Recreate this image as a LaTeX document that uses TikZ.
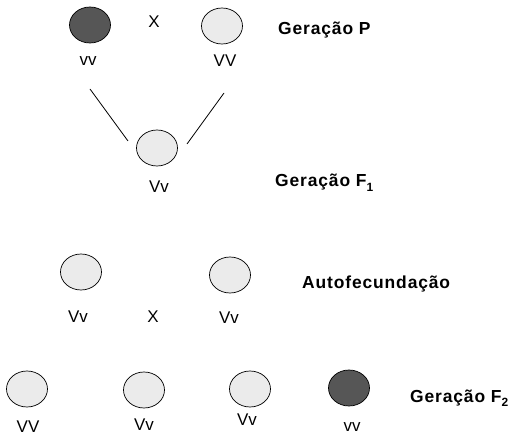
\documentclass[tikz,border=0pt]{standalone}
\usepackage{fontspec}
\setmainfont{Liberation Sans}
\newfontfamily\headfont[LetterSpace=5]{Liberation Sans}
\usetikzlibrary{shapes.geometric}
\definecolor{lightcell}{HTML}{EBEBEB}
\definecolor{darkcell}{HTML}{565656}
\tikzset{
  cell/.style={ellipse, draw=black, line width=0.7bp, minimum width=41bp, minimum height=36bp, inner sep=0pt},
  lightc/.style={cell, fill=lightcell},
  darkc/.style={cell, fill=darkcell},
  geno/.style={inner sep=0pt, font=\fontsize{17}{17}\selectfont},
  head/.style={inner sep=0pt, anchor=base west, font=\headfont\bfseries\fontsize{17.5}{17.5}\selectfont},
  link/.style={line width=0.8bp, black}
}
\newcommand{\subidx}[1]{\raisebox{-4.5bp}{\fontsize{12}{12}\selectfont #1}}
\begin{document}
\begin{tikzpicture}[x=1bp, y=-1bp]
\useasboundingbox (0,0) rectangle (522,444);
% Generation P
\node[darkc] (p1) at (90,25) {};
\node[lightc] (p2) at (222,26) {};
\node[geno] (p1l) at (88,61) {vv};
\node[geno] (p2l) at (225,61) {VV};
\node[geno] (px) at (154,22) {X};
\node[head] (hp) at (278,35) {Geração P};
% Generation F1
\node[lightc] (f1) at (157,148) {};
\node[geno] (f1l) at (159,187) {Vv};
\node[head] (hf1) at (275,187) {Geração F\subidx{1}};
\coordinate (la) at (90,89);
\coordinate (lb) at (128,141);
\coordinate (ra) at (224,93);
\coordinate (rb) at (187,144);
\draw[link] (la) -- (lb);
\draw[link] (ra) -- (rb);
% Self-fertilisation
\node[lightc] (a1) at (81,272) {};
\node[lightc] (a2) at (230,275) {};
\node[geno] (a1l) at (78,317) {Vv};
\node[geno] (ax) at (153,317) {X};
\node[geno] (a2l) at (229,318) {Vv};
\node[head] (ha) at (302,288) {Autofecundação};
% Generation F2
\node[lightc] (e1) at (27,389) {};
\node[lightc] (e2) at (144,390) {};
\node[lightc] (e3) at (250,389) {};
\node[darkc] (e4) at (349,388) {};
\node[geno] (e1l) at (28,427) {VV};
\node[geno] (e2l) at (144,425) {Vv};
\node[geno] (e3l) at (247,420) {Vv};
\node[geno] (e4l) at (352,427) {vv};
\node[head] (hf2) at (410,402) {Geração F\subidx{2}};
\end{tikzpicture}
\end{document}
